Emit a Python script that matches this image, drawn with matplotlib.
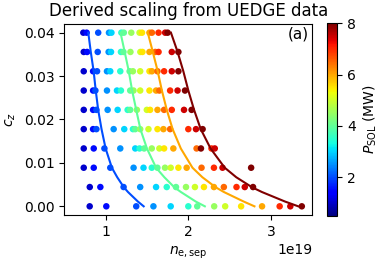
import numpy as np
import matplotlib
matplotlib.use("Agg")
import matplotlib.pyplot as plt
from matplotlib.colors import Normalize

# c_z rows (10 levels)
cz_levels = [0.0, 0.00444, 0.00889, 0.01333, 0.01778, 0.02222, 0.02667, 0.03111, 0.03556, 0.04]

# P_SOL values (MW)
P_full = [1.0, 1.5, 2.0, 2.5, 3.0, 3.5, 4.0, 4.5, 5.0, 5.5, 6.0, 6.5, 7.0, 7.5, 8.0]
P_row0 = [1.0, 1.5, 2.0, 2.5, 3.0, 3.5, 4.0, 4.5, 5.0, 5.5, 6.0, 7.0, 7.5, 8.0]
P_row6 = [1.0, 1.5, 2.0, 2.5, 3.0, 3.5, 4.0, 4.5, 5.0, 5.5, 6.0, 6.5, 8.0, 7.0, 7.5]

# n_e,sep values (1e19 m^-3) per c_z row
ne_row0 = [0.807, 1.008, 1.37, 1.578, 1.787, 2.0, 2.108, 2.313, 2.446, 2.639, 2.892, 3.105, 3.234, 3.373]
ne_row1 = [0.808, 0.936, 1.217, 1.418, 1.61, 1.739, 1.851, 1.972, 2.08, 2.189, 2.31, 2.43, 2.583, 2.683, 2.783]
ne_row2 = [0.735, 0.856, 1.056, 1.338, 1.458, 1.558, 1.626, 1.718, 1.787, 1.88, 1.98, 2.16, 2.31, 2.414, 2.76]
ne_row3 = [0.735, 0.856, 0.985, 1.177, 1.358, 1.41, 1.466, 1.558, 1.65, 1.707, 1.819, 2.10, 2.153, 2.28, 2.32]
ne_row4 = [0.735, 0.848, 0.888, 1.097, 1.225, 1.33, 1.358, 1.418, 1.518, 1.627, 1.699, 1.78, 2.0, 2.093, 2.173]
ne_row5 = [0.735, 0.848, 0.888, 1.024, 1.145, 1.266, 1.297, 1.378, 1.498, 1.538, 1.627, 1.707, 1.80, 1.948, 2.04]
ne_row6 = [0.735, 0.848, 0.876, 1.016, 1.137, 1.185, 1.297, 1.337, 1.418, 1.53, 1.61, 1.65, 1.78, 1.87, 1.96]
ne_row7 = [0.735, 0.848, 0.896, 1.016, 1.056, 1.177, 1.29, 1.33, 1.418, 1.53, 1.56, 1.627, 1.707, 1.80, 1.88]
ne_row8 = [0.735, 0.776, 0.904, 1.036, 1.065, 1.185, 1.215, 1.30, 1.42, 1.445, 1.53, 1.60, 1.64, 1.80, 1.88]
ne_row9 = [0.73, 0.77, 0.91, 1.04, 1.07, 1.19, 1.22, 1.31, 1.41, 1.44, 1.53, 1.56, 1.64, 1.72, 1.75]

# Derived scaling curves (P_SOL = 2, 4, 6, 8 MW)
curve_P = [2.0, 4.0, 6.0, 8.0]
curve_cz = [0.04, 0.0356, 0.0311, 0.0267, 0.0222, 0.0178, 0.0133, 0.0089, 0.0067, 0.0044, 0.0033, 0.0022, 0.0011, 0.0]
curve_ne_P2 = [0.79, 0.82, 0.855, 0.88, 0.91, 0.95, 1.0, 1.075, 1.14, 1.22, 1.27, 1.33, 1.39, 1.46]
curve_ne_P4 = [1.18, 1.23, 1.28, 1.32, 1.37, 1.42, 1.50, 1.61, 1.71, 1.83, 1.91, 2.00, 2.09, 2.20]
curve_ne_P6 = [1.51, 1.57, 1.63, 1.68, 1.74, 1.81, 1.91, 2.05, 2.17, 2.33, 2.43, 2.55, 2.67, 2.80]
curve_ne_P8 = [1.79, 1.87, 1.94, 2.00, 2.07, 2.15, 2.27, 2.44, 2.58, 2.77, 2.89, 3.03, 3.17, 3.33]

ne_rows = [ne_row0, ne_row1, ne_row2, ne_row3, ne_row4, ne_row5, ne_row6, ne_row7, ne_row8, ne_row9]
P_rows = [P_row0, P_full, P_full, P_row6, P_full, P_full, P_full, P_full, P_full, P_full]

xs, ys, cs = [], [], []
for cz, ne, P in zip(cz_levels, ne_rows, P_rows):
    xs += [v * 1e19 for v in ne]
    ys += [cz] * len(ne)
    cs += P

cmap = plt.get_cmap("jet")
norm = Normalize(vmin=0.5, vmax=8.0)

fig = plt.figure(figsize=(3.81, 2.64), dpi=100)
ax = fig.add_axes([0.1688, 0.1856, 0.6509, 0.7235])
cax = fig.add_axes([0.859, 0.183, 0.0262, 0.7288])

sc = ax.scatter(xs, ys, c=cs, cmap=cmap, norm=norm, s=22, linewidths=0)

for P, ne in zip(curve_P, [curve_ne_P2, curve_ne_P4, curve_ne_P6, curve_ne_P8]):
    ax.plot([v * 1e19 for v in ne], curve_cz, color=cmap(norm(P)), lw=1.5)

ax.set_xlim(0.5e19, 3.5e19)
ax.set_ylim(-0.002, 0.042)
ax.set_yticks([0.0, 0.01, 0.02, 0.03, 0.04])
ax.set_xlabel(r"$n_{\rm e,sep}$")
ax.set_ylabel(r"$c_z$")
ax.set_title("Derived scaling from UEDGE data")
ax.text(0.985, 0.985, "(a)", transform=ax.transAxes, ha="right", va="top", fontsize=11)

cb = fig.colorbar(sc, cax=cax)
cb.set_label(r"$P_{\rm SOL}$ (MW)")

fig.savefig("out.png", dpi=100)
